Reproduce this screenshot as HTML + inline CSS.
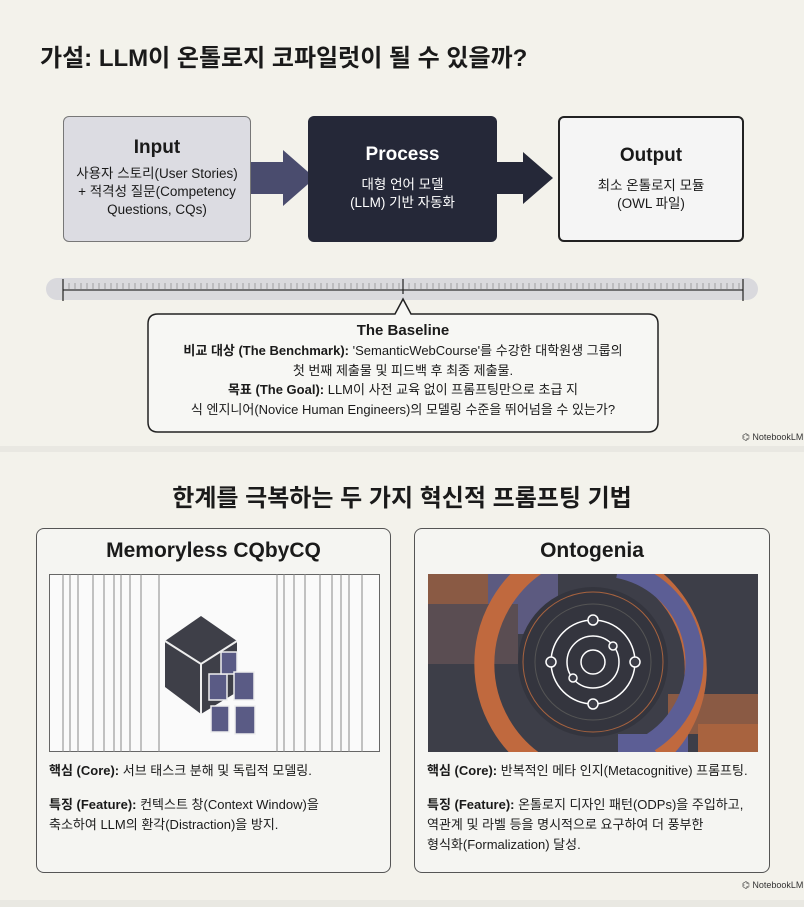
<!DOCTYPE html>
<html><head><meta charset="utf-8"><style>
body{margin:0;width:804px;height:907px;background:#e9e8e2;font-family:"Liberation Sans","Noto Sans CJK KR",sans-serif;position:relative;overflow:hidden;color:#1a1a1a}
.abs{position:absolute}
.slide{position:absolute;left:0;width:804px;background:#f3f2eb}
.box{position:absolute;box-sizing:border-box;border-radius:6px;text-align:center}
.box h3{margin:0;font-size:19px;font-weight:bold}
.box p{margin:0;font-size:13.5px;line-height:18px}
.card{position:absolute;box-sizing:border-box;border:1.5px solid #555;border-radius:8px;background:#f5f5f2}
.card h2{margin:0;position:absolute;top:10px;width:100%;text-align:center;font-size:21px}
.card .txt{position:absolute;left:12px;font-size:13px;line-height:20px}
.nb{position:absolute;font-size:9px;color:#333}
</style></head><body>
<div class="slide" style="top:0;height:446px"></div>
<div class="slide" style="top:452px;height:448px"></div>
<div class="abs" style="left:40px;top:38px;font-size:24px;font-weight:bold">가설: LLM이 온톨로지 코파일럿이 될 수 있을까?</div>

<svg class="abs" style="left:0;top:0" width="804" height="446">
<polygon points="248,162 283,162 283,150 315,178 283,206 283,194 248,194" fill="#4a4c6e"/>
<polygon points="495,162 523,162 523,152 553,178 523,204 523,194 495,194" fill="#252838"/>
<rect x="46" y="278" width="712" height="22" rx="11" fill="#d9d9dd"/>
<line x1="63" y1="290" x2="743" y2="290" stroke="#333" stroke-width="1.2"/>
<line x1="63" y1="279" x2="63" y2="301" stroke="#222" stroke-width="1.2"/>
<line x1="743" y1="279" x2="743" y2="301" stroke="#222" stroke-width="1.2"/>
<line x1="403" y1="279" x2="403" y2="294" stroke="#222" stroke-width="1.2"/>
<path d="M158,314 L395,314 L403,299 L411,314 L648,314 Q658,314 658,324 L658,422 Q658,432 648,432 L158,432 Q148,432 148,422 L148,324 Q148,314 158,314 Z" fill="#f7f7f4" stroke="#222" stroke-width="1.5"/>
<g stroke="#888" stroke-width="0.7">
<path d="M69,283v6M75,283v6M81,283v6M87,283v6M93,283v6M99,283v6M105,283v6M111,283v6M117,283v6M123,283v6M129,283v6M135,283v6M141,283v6M147,283v6M153,283v6M159,283v6M165,283v6M171,283v6M177,283v6M183,283v6M189,283v6M195,283v6M201,283v6M207,283v6M213,283v6M219,283v6M225,283v6M231,283v6M237,283v6M243,283v6M249,283v6M255,283v6M261,283v6M267,283v6M273,283v6M279,283v6M285,283v6M291,283v6M297,283v6M303,283v6M309,283v6M315,283v6M321,283v6M327,283v6M333,283v6M339,283v6M345,283v6M351,283v6M357,283v6M363,283v6M369,283v6M375,283v6M381,283v6M387,283v6M393,283v6M399,283v6M409,283v6M415,283v6M421,283v6M427,283v6M433,283v6M439,283v6M445,283v6M451,283v6M457,283v6M463,283v6M469,283v6M475,283v6M481,283v6M487,283v6M493,283v6M499,283v6M505,283v6M511,283v6M517,283v6M523,283v6M529,283v6M535,283v6M541,283v6M547,283v6M553,283v6M559,283v6M565,283v6M571,283v6M577,283v6M583,283v6M589,283v6M595,283v6M601,283v6M607,283v6M613,283v6M619,283v6M625,283v6M631,283v6M637,283v6M643,283v6M649,283v6M655,283v6M661,283v6M667,283v6M673,283v6M679,283v6M685,283v6M691,283v6M697,283v6M703,283v6M709,283v6M715,283v6M721,283v6M727,283v6M733,283v6M739,283v6"/></g></svg>

<div class="box" style="left:63px;top:116px;width:188px;height:126px;background:#dcdce2;border:1.5px solid #777"><h3 style="margin-top:20px">Input</h3><p style="margin-top:6px">사용자 스토리(User Stories)<br>+ 적격성 질문(Competency<br>Questions, CQs)</p></div>
<div class="box" style="left:308px;top:116px;width:189px;height:126px;background:#252838;color:#fff"><h3 style="margin-top:28px">Process</h3><p style="margin-top:10px">대형 언어 모델<br>(LLM) 기반 자동화</p></div>
<div class="box" style="left:558px;top:116px;width:186px;height:126px;background:#f5f5f5;border:2px solid #222"><h3 style="margin-top:27px">Output</h3><p style="margin-top:10px">최소 온톨로지 모듈<br>(OWL 파일)</p></div>

<div class="abs" style="left:148px;top:321px;width:510px;text-align:center;font-size:13px;line-height:19.5px">
<div style="font-weight:bold;font-size:15px;line-height:20px">The Baseline</div>
<b>비교 대상 (The Benchmark):</b> 'SemanticWebCourse'를 수강한 대학원생 그룹의<br>첫 번째 제출물 및 피드백 후 최종 제출물.<br><b>목표 (The Goal):</b> LLM이 사전 교육 없이 프롬프팅만으로 초급 지<br>식 엔지니어(Novice Human Engineers)의 모델링 수준을 뛰어넘을 수 있는가?</div>
<div class="nb" style="left:742px;top:432px">⌬ NotebookLM</div>

<div class="abs" style="left:0;top:478px;width:804px;text-align:center;font-size:24px;font-weight:bold">한계를 극복하는 두 가지 혁신적 프롬프팅 기법</div>

<div class="card" style="left:36px;top:528px;width:355px;height:345px">
<h2>Memoryless CQbyCQ</h2>
<svg class="abs" style="left:12px;top:45px" width="331" height="178">
<rect x="0.5" y="0.5" width="330" height="177" fill="#fafafa" stroke="#666"/>
<g stroke="#888" stroke-width="1"><path d="M14,0v178M21,0v178M29,0v178M44,0v178M55,0v178M65,0v178M72,0v178M81,0v178M92,0v178M110,0v178M228,0v178M235,0v178M245,0v178M256,0v178M271,0v178M283,0v178M292,0v178M300,0v178M313,0v178"/></g>
<polygon points="116,67 152,42 188,67 188,118 152,140 116,113" fill="#3e3f48"/>
<polyline points="116,67 152,90 188,67" fill="none" stroke="#eee" stroke-width="2"/>
<line x1="152" y1="90" x2="152" y2="140" stroke="#eee" stroke-width="2"/>
<g fill="#5a5b85" stroke="#eee" stroke-width="1.5">
<rect x="160" y="100" width="18" height="26"/><rect x="172" y="78" width="16" height="22"/><rect x="185" y="98" width="20" height="28"/><rect x="162" y="132" width="18" height="26"/><rect x="186" y="132" width="20" height="28"/></g>
</svg>
<div class="txt" style="top:232px"><b>핵심 (Core):</b> 서브 태스크 분해 및 독립적 모델링.</div>
<div class="txt" style="top:266px"><b>특징 (Feature):</b> 컨텍스트 창(Context Window)을<br>축소하여 LLM의 환각(Distraction)을 방지.</div>
</div>

<div class="card" style="left:414px;top:528px;width:356px;height:345px">
<h2>Ontogenia</h2>
<svg class="abs" style="left:13px;top:45px" width="330" height="178">
<defs><clipPath id="c"><rect width="330" height="178"/></clipPath></defs>
<g clip-path="url(#c)">
<rect width="330" height="178" fill="#3d3e48"/>
<rect x="0" y="0" width="90" height="40" fill="#8a5a44"/><rect x="60" y="0" width="70" height="60" fill="#5c5a80"/>
<rect x="0" y="30" width="90" height="60" fill="#5a4d52"/><rect x="240" y="120" width="90" height="40" fill="#8a5a44"/><rect x="270" y="150" width="60" height="28" fill="#a8633f"/><rect x="190" y="160" width="70" height="18" fill="#5c5e95"/>
<path d="M110,-10 A120,120 0 0 0 110,190" fill="none" stroke="#c0693e" stroke-width="20"/>
<path d="M200,-10 A115,115 0 0 1 230,180" fill="none" stroke="#c0693e" stroke-width="22"/>
<path d="M190,-5 A95,95 0 0 1 210,175" fill="none" stroke="#5c5e95" stroke-width="18"/>
<circle cx="165" cy="88" r="75" fill="#34353e"/>
<circle cx="165" cy="88" r="70" fill="none" stroke="#a8633f" stroke-width="1"/>
<circle cx="165" cy="88" r="58" fill="none" stroke="#555" stroke-width="1"/>
<g fill="none" stroke="#fff" stroke-width="1.5"><circle cx="165" cy="88" r="42"/><circle cx="165" cy="88" r="26"/><circle cx="165" cy="88" r="12"/></g>
<g fill="#3d3e48" stroke="#fff" stroke-width="1.5"><circle cx="165" cy="46" r="5"/><circle cx="207" cy="88" r="5"/><circle cx="165" cy="130" r="5"/><circle cx="123" cy="88" r="5"/><circle cx="185" cy="72" r="4"/><circle cx="145" cy="104" r="4"/></g>
</g>
</svg>
<div class="txt" style="top:232px"><b>핵심 (Core):</b> 반복적인 메타 인지(Metacognitive) 프롬프팅.</div>
<div class="txt" style="top:266px"><b>특징 (Feature):</b> 온톨로지 디자인 패턴(ODPs)을 주입하고,<br>역관계 및 라벨 등을 명시적으로 요구하여 더 풍부한<br>형식화(Formalization) 달성.</div>
</div>
<div class="nb" style="left:742px;top:880px">⌬ NotebookLM</div>
</body></html>
